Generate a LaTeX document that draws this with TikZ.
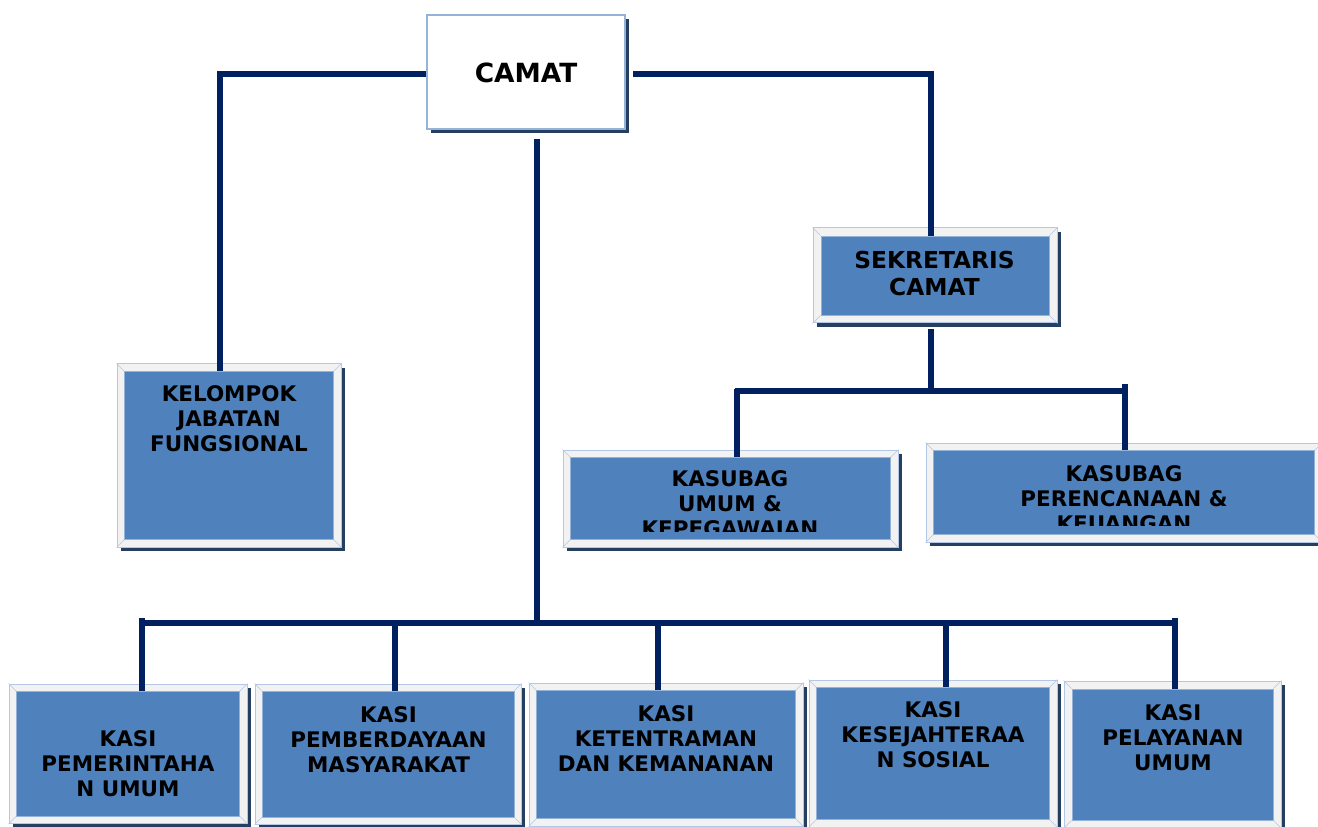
\documentclass[tikz,border=0pt]{standalone}
\usepackage{fontspec}
\setmainfont{DejaVu Sans}
\usetikzlibrary{fit}
\definecolor{navy}{HTML}{002060}
\definecolor{boxblue}{HTML}{4F81BD}
\definecolor{framegray}{HTML}{F2F2F2}
\definecolor{frameedge}{HTML}{B4C7E7}
\definecolor{shadowc}{HTML}{243F60}
\definecolor{camatedge}{HTML}{95B3D7}
\tikzset{
  conn/.style={draw=navy, line width=4.3pt},
  outerbox/.style={fill=framegray, draw=frameedge, line width=0.75pt, inner sep=0pt},
  innerbox/.style={fill=boxblue, draw=boxblue!60!white, line width=0.6pt, inner sep=0pt},
  lbl/.style={font=\bfseries\fontsize{16.1}{18.75}\selectfont, align=center, inner sep=0pt, anchor=north},
  bevel/.style={draw=frameedge, line width=0.4pt},
}
\newcommand\orgbox[6]{%
  \fill[shadowc] (#2+4,#3+4) rectangle (#4+4,#5+4);
  \node[outerbox, fit={(#2,#3) (#4,#5)}] (#1) {};
  \node[innerbox, fit={(#2+#6,#3+#6) (#4-#6,#5-#6)}] (#1in) {};
  \draw[bevel] (#1.north west) -- (#1in.north west) (#1.north east) -- (#1in.north east)
               (#1.south west) -- (#1in.south west) (#1.south east) -- (#1in.south east);
}
\begin{document}
\begin{tikzpicture}[x=0.75pt,y=-0.75pt]
\useasboundingbox (0,0) rectangle (1318,827);
\fill[white] (0,0) rectangle (1318,827);

% CAMAT
\fill[shadowc] (431,19) rectangle (629,133);
\node[fill=white, draw=camatedge, line width=1.8pt, inner sep=0pt, fit={(427,15) (625,129)}] (camat) {};
\node[font=\bfseries\fontsize{19.8}{23}\selectfont, inner sep=0pt] (camattxt) at (526,73) {CAMAT};

% boxes
\orgbox{sek}{813}{228}{1057}{323}{8}
\orgbox{kel}{117}{364}{341}{547}{7.5}
\orgbox{umum}{563}{450}{898}{547}{7.5}
\orgbox{renc}{926}{443}{1322}{542}{7.5}
\orgbox{ka}{9}{684}{247}{823.5}{7.5}
\orgbox{kb}{255}{684}{521}{824}{7}
\orgbox{kc}{529}{683}{803}{826}{7.5}
\orgbox{kd}{809}{680}{1057}{827}{7.5}
\orgbox{ke}{1064}{681}{1281}{828}{8}

% texts
\node[lbl, font=\bfseries\fontsize{17.5}{20.25}\selectfont] (sektxt) at (934.5,250.5) {SEKRETARIS\\CAMAT};
\node[lbl] (keltxt) at (229,385) {KELOMPOK\\JABATAN\\FUNGSIONAL};
\begin{scope}
  \clip (571,457) rectangle (891,531);
  \node[lbl] (umumtxt) at (730,470) {KASUBAG\\UMUM \&\\KEPEGAWAIAN};
\end{scope}
\begin{scope}
  \clip (934,451) rectangle (1315,525);
  \node[lbl] (renctxt) at (1124,465) {KASUBAG\\PERENCANAAN \&\\KEUANGAN};
\end{scope}
\node[lbl] (katxt) at (128,730) {KASI\\PEMERINTAHA\\N UMUM};
\node[lbl] (kbtxt) at (388.5,706) {KASI\\PEMBERDAYAAN\\MASYARAKAT};
\node[lbl] (kctxt) at (666,705) {KASI\\KETENTRAMAN\\DAN KEMANANAN};
\node[lbl] (kdtxt) at (933,701) {KASI\\KESEJAHTERAA\\N SOSIAL};
\node[lbl] (ketxt) at (1173,704) {KASI\\PELAYANAN\\UMUM};

% connectors from CAMAT
\coordinate (jl) at (220,74);
\coordinate (jr) at (931,74);
\coordinate (bc) at (537,623);
\draw[conn] (jl -| camat.west) -- (jl) -- (jl |- kelin.north);
\draw[conn, shorten <=5.25pt] (jr -| camat.east) -- (jr) -- (jr |- sekin.north);
\draw[conn, shorten <=6.75pt] (bc |- camat.south) -- (bc);

% bottom bus
\coordinate (b1) at (142,623);
\coordinate (b5) at (1175,623);
\draw[conn] (b1) -- (b5);
\coordinate (t1) at (142,618);
\coordinate (t2) at (395,621);
\coordinate (t3) at (658,621);
\coordinate (t4) at (946,621);
\coordinate (t5) at (1175,618);
\draw[conn] (t1) -- (t1 |- kain.north);
\draw[conn] (t2) -- (t2 |- kbin.north);
\draw[conn] (t3) -- (t3 |- kcin.north);
\draw[conn] (t4) -- (t4 |- kdin.north);
\draw[conn] (t5) -- (t5 |- kein.north);

% sekretaris bus
\coordinate (sj) at (931,391);
\draw[conn, shorten <=4pt] (jr |- sek.south) -- (sj);
\coordinate (s1) at (735,391);
\coordinate (s2) at (1125,391);
\draw[conn] (s1) -- (s2);
\coordinate (u1) at (737,389);
\coordinate (u2) at (1125,384);
\draw[conn] (u1) -- (u1 |- umumin.north);
\draw[conn] (u2) -- (u2 |- rencin.north);
\end{tikzpicture}
\end{document}
